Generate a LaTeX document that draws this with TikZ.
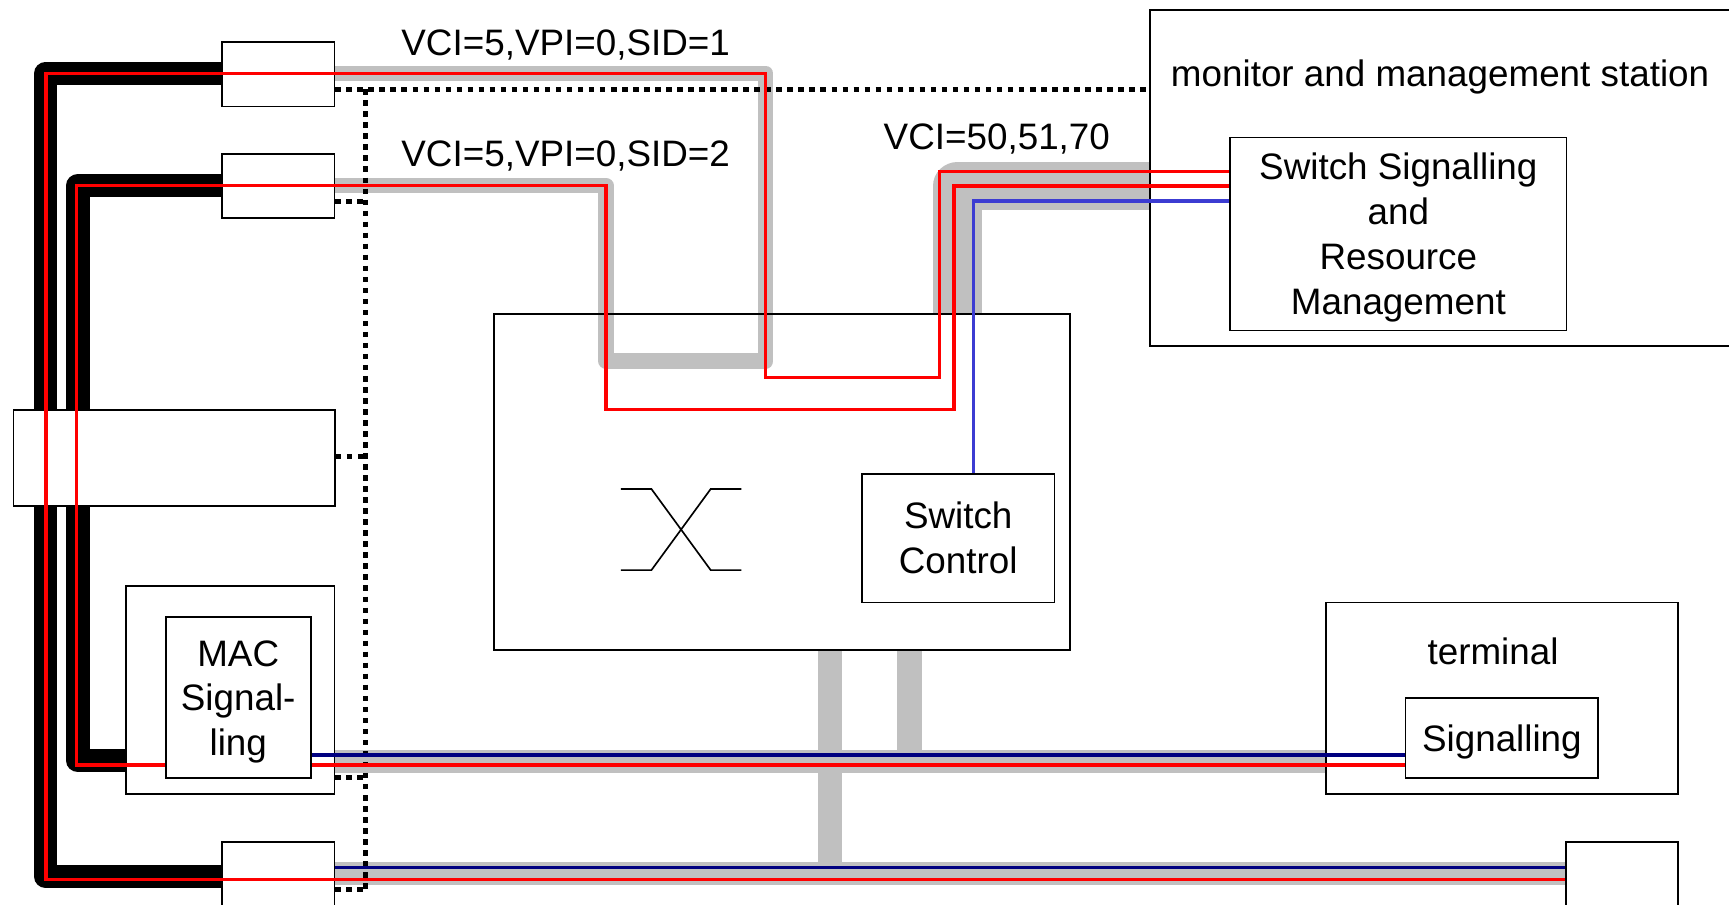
\documentclass[tikz,border=0pt]{standalone}
\usepackage{fontspec}
\setmainfont{Liberation Sans}
\usetikzlibrary{backgrounds}
\definecolor{sigred}{RGB}{255,0,0}
\definecolor{ctlblue}{RGB}{60,60,210}
\definecolor{busnavy}{RGB}{0,0,128}
\definecolor{vcgrey}{RGB}{192,192,192}
\newcommand{\lblfont}{\fontsize{9.5}{11.6}\selectfont}
\newcommand{\topstrut}{\rule{0pt}{3.1mm}}
\tikzset{
  unitbox/.style={draw,fill=white,line width=0.15mm,inner sep=0pt,
                  anchor=north west,align=center,font=\lblfont},
  lbl/.style={font=\lblfont,inner sep=0pt,anchor=base},
  trunk/.style={line width=2.1mm,line join=round,draw=black},
  vcband/.style={line width=1.4mm,line join=round,draw=vcgrey},
  busband/.style={line width=2.1mm,draw=vcgrey},
  redsig/.style={line width=0.3mm,draw=sigred},
  navysig/.style={line width=0.3mm,draw=busnavy},
  ctlsig/.style={line width=0.3mm,draw=ctlblue},
  dotl/.style={line width=0.42mm,dash pattern=on 0.5mm off 0.5mm},
}
\begin{document}
\begin{tikzpicture}[x=0.1mm,y=-0.1mm]
  \useasboundingbox (0,0) rectangle (1568,820);

  \node[unitbox,minimum width=10.22mm,minimum height=5.86mm] (portA) at (200.4,37.2) {};
  \node[unitbox,minimum width=10.22mm,minimum height=5.8mm]  (portB) at (200.4,139) {};
  \node[unitbox,minimum width=29.14mm,minimum height=8.7mm]  (portC) at (11.6,371) {};
  \node[unitbox,minimum width=18.92mm,minimum height=18.89mm] (macbox) at (113.4,530.5) {};
  \node[unitbox,minimum width=13.14mm,minimum height=14.6mm] (macsig) at (149.6,559)
    {\topstrut MAC\\Signal-\\ling};
  \node[unitbox,minimum width=10.22mm,minimum height=8mm]    (portE) at (200.4,762.7) {};
  \node[unitbox,minimum width=10.14mm,minimum height=8mm]    (portF) at (1419.6,763) {};

  \node[unitbox,fill=none,minimum width=52.28mm,minimum height=30.47mm] (switch) at (447,284.2) {};
  \node[unitbox,minimum width=17.45mm,minimum height=11.66mm] (swctl) at (781,429)
    {Switch\\Control};

  \node[unitbox,minimum width=56mm,minimum height=30.45mm]   (monitor) at (1042.4,8.5) {};
  \node[unitbox,minimum width=30.52mm,minimum height=17.5mm] (ssr) at (1114.8,124)
    {\topstrut Switch Signalling\\and\\Resource\\Management};
  \node[unitbox,minimum width=31.9mm,minimum height=17.39mm] (terminal) at (1202,545.6) {};
  \node[unitbox,minimum width=17.46mm,minimum height=7.3mm]  (sig) at (1274,632)
    {\topstrut Signalling};

  \node[lbl] (monlbl)  at (1306,78.6) {monitor and management station};
  \node[lbl] (termlbl) at (1354,602.5) {terminal};
  \node[lbl] (vc1)  at (513,50)  {VCI=5,VPI=0,SID=1};
  \node[lbl] (vc2)  at (513,151) {VCI=5,VPI=0,SID=2};
  \node[lbl] (vc3)  at (904,136) {VCI=50,51,70};

  % switching fabric symbol
  \draw[line width=0.15mm] (563,443.5) -- (590.8,443.5) -- (644.5,517) -- (672.3,517)
    (563,517) -- (590.8,517) -- (644.5,443.5) -- (672.3,443.5);

  \begin{scope}[on background layer]
    \draw[trunk] (portA.west |- 0,66.5) -- (41.5,66.5) -- (41.5,795) -- (portE.west |- 0,795);
    \draw[trunk] (portB.west |- 0,168.1) -- (70.7,168.1) -- (70.7,690) -- (macbox.west |- 0,690);
    \draw[vcband] (portA.east |- 0,66.5) -- (694.4,66.5) -- (694.4,327.5)
      -- (549.6,327.5) -- (549.6,168.4) -- (portB.east |- 0,168.4);
    \draw[vcband,line width=4.4mm] (switch.north -| 868.4,0) -- (868.4,168.5)
      -- (monitor.west |- 0,168.5);
    \draw[busband] (macbox.east |- 0,690.5) -- (terminal.west |- 0,690.5);
    \draw[busband] (portE.east |- 0,792) -- (portF.west |- 0,792);
    \draw[busband,line width=2.2mm] (switch.south -| 752.4,0) -- (752.4,802.6);
    \draw[busband,line width=2.2mm] (switch.south -| 824.8,0) -- (824.8,701);
  \end{scope}

  \draw[dotl] (portA.east |- 0,81) -- (monitor.west |- 0,81);
  \draw[dotl] (331.6,81) -- (331.6,806.5);
  \foreach \b/\yy in {portB/183,portC/414,macbox/705,portE/806.5}
    \draw[dotl] (\b.east |- 0,\yy) -- (331.6,\yy);

  \draw[redsig] (portF.west |- 0,797.4) -- (41.7,797.4) -- (41.7,66.5)
    -| (694.4,342.5) -| (851.8,155.7) -- (ssr.west |- 0,155.7);
  \draw[redsig] (macsig.west |- 0,693.7) -- (69.5,693.7) -- (69.5,168.4)
    -| (549.6,371.2) -| (865.2,168.7) -- (ssr.west |- 0,168.7);
  \draw[ctlsig] (swctl.north -| 883,0) -- (883,182.3) -- (ssr.west |- 0,182.3);
  \draw[redsig]  (macsig.east |- 0,693.7) -- (sig.west |- 0,693.7);
  \draw[navysig] (macsig.east |- 0,684.7) -- (sig.west |- 0,684.7);
  \draw[navysig] (portE.east |- 0,786.5) -- (portF.west |- 0,786.5);
\end{tikzpicture}
\end{document}
